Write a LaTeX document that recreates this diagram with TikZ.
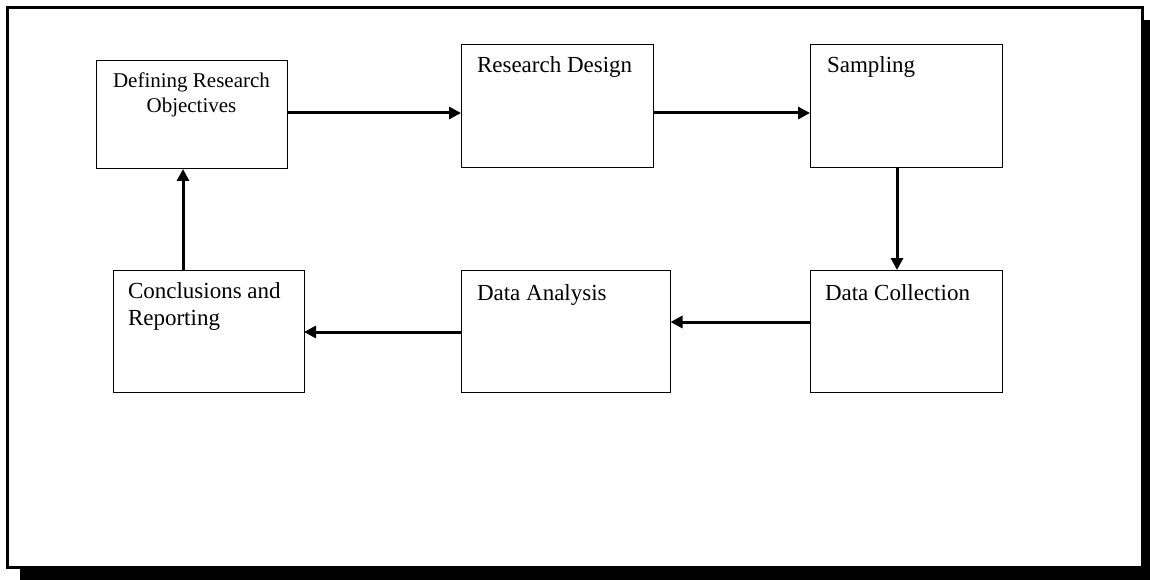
\documentclass[tikz,border=0pt]{standalone}
\usepackage{fontspec}
\setmainfont{Liberation Serif}
\usetikzlibrary{arrows.meta}
\begin{document}
\begin{tikzpicture}[x=1pt,y=-1pt,
  box/.style={draw=black,line width=1pt,fill=white,rectangle,inner sep=0pt,outer sep=0pt},
  arr/.style={line width=3pt,-{Triangle[length=12pt,width=12pt]}},
  lbl/.style={inner sep=0pt,outer sep=0pt,font=\fontsize{23}{27}\selectfont,anchor=base west},
  lblsmall/.style={inner sep=0pt,outer sep=0pt,font=\fontsize{21}{25}\selectfont,anchor=base}]
\useasboundingbox (0,0) rectangle (1150,580);
% shadow and frame
\fill[black] (20,20) rectangle (1150,580);
\draw[line width=3pt,fill=white] (7.5,7.5) rectangle (1142.5,567.5);
% boxes
\node[box,minimum width=191pt,minimum height=108pt] (b1) at (191.5,115) {};
\node[box,minimum width=192pt,minimum height=123pt] (b2) at (557,106.5) {};
\node[box,minimum width=192pt,minimum height=123pt] (b3) at (906,106.5) {};
\node[box,minimum width=191pt,minimum height=122pt] (b4) at (208.5,331) {};
\node[box,minimum width=209pt,minimum height=122pt] (b5) at (566,331) {};
\node[box,minimum width=192pt,minimum height=122pt] (b6) at (906,331) {};
% texts
\node[lblsmall] (t1a) at (191.5,88) {Defining Research};
\node[lblsmall] (t1b) at (191.5,113) {Objectives};
\node[lbl] (t2) at (477,73) {Research Design};
\node[lbl] (t3) at (827,73) {Sampling};
\node[lbl] (t4a) at (128,298) {Conclusions and};
\node[lbl] (t4b) at (128,325) {Reporting};
\node[lbl] (t5) at (477,300) {Data Analysis};
\node[lbl] (t6) at (825,300) {Data Collection};
% connectors
\coordinate (a1) at ([yshift=2pt]b1.east);
\draw[arr] (a1) -- (a1 -| b2.west);
\coordinate (a2) at ([yshift=-6.5pt]b2.east);
\draw[arr] (a2) -- (a2 -| b3.west);
\coordinate (a3) at ([xshift=-9pt]b3.south);
\draw[arr] (a3) -- (a3 |- b6.north);
\coordinate (a4) at ([yshift=9pt]b6.west);
\draw[arr] (a4) -- (a4 -| b5.east);
\coordinate (a5) at ([yshift=-1pt]b5.west);
\draw[arr] (a5) -- (a5 -| b4.east);
\coordinate (a6) at ([xshift=-25.5pt]b4.north);
\draw[arr] (a6) -- (a6 |- b1.south);
\end{tikzpicture}
\end{document}
